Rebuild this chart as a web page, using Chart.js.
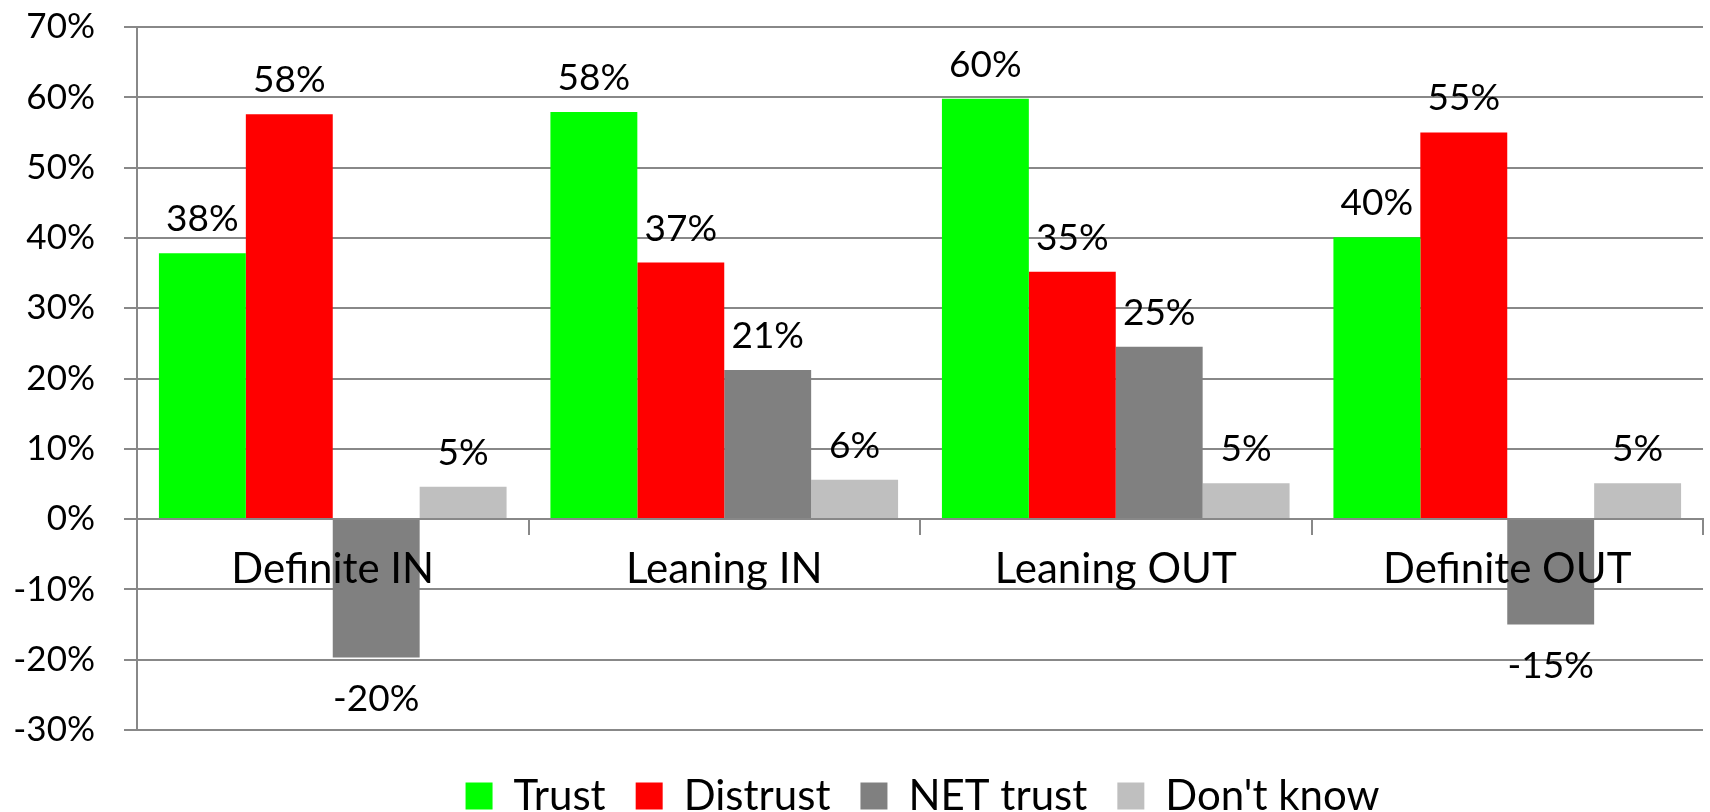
<!DOCTYPE html>
<html>
<head>
<meta charset="utf-8">
<script src="https://cdn.jsdelivr.net/npm/chart.js@4"></script>
<style>
  html, body { margin: 0; padding: 0; background: #fff; }
  #wrap { width: 1710px; height: 812px; }
</style>
</head>
<body>
<div id="wrap"><canvas id="chart"></canvas></div>
<script>
// categories and series (percent)
const categories = ['Definite IN', 'Leaning IN', 'Leaning OUT', 'Definite OUT'];
const trust = [37.8, 57.9, 59.8, 40.1];
const distrust = [57.6, 36.5, 35.2, 55.0];
const netTrust = [-19.7, 21.2, 24.5, -15.0];
const dontKnow = [4.6, 5.6, 5.1, 5.1];
const yMin = -30, yMax = 70, yStep = 10;

const FONT = 'Lato, "Open Sans", sans-serif';
const GRID = '#888888';

// value labels drawn at the bar ends
const barLabels = {
  id: 'barLabels',
  afterDatasetsDraw(chart) {
    const ctx = chart.ctx;
    ctx.save();
    ctx.font = '37px ' + FONT;
    ctx.fillStyle = '#000';
    ctx.textAlign = 'center';
    ctx.textBaseline = 'alphabetic';
    chart.data.datasets.forEach((ds, i) => {
      const meta = chart.getDatasetMeta(i);
      meta.data.forEach((bar, j) => {
        const v = ds.data[j];
        const txt = Math.round(v) + '%';
        const y = v >= 0 ? bar.y - 22 : bar.y + 53;
        ctx.fillText(txt, bar.x, y);
      });
    });
    ctx.restore();
  }
};

// nudge the legend to sit where the original has it
const legendShift = {
  id: 'legendShift',
  afterLayout(chart) {
    const lg = chart.legend;
    if (lg) {
      lg.left += 71; lg.right += 71;
      lg.top += 15; lg.bottom += 15;
    }
  }
};

new Chart(document.getElementById('chart'), {
  type: 'bar',
  data: {
    labels: categories,
    datasets: [
      { label: 'Trust', data: trust, backgroundColor: '#00ff00' },
      { label: 'Distrust', data: distrust, backgroundColor: '#ff0000' },
      { label: 'NET trust', data: netTrust, backgroundColor: '#808080' },
      { label: "Don't know", data: dontKnow, backgroundColor: '#bfbfbf' }
    ]
  },
  options: {
    responsive: true,
    maintainAspectRatio: false,
    animation: false,
    datasets: { bar: { categoryPercentage: 0.888, barPercentage: 1.0 } },
    layout: { padding: { top: 27, right: 7, left: 0, bottom: 0 } },
    plugins: {
      tooltip: { enabled: false },
      legend: {
        position: 'bottom',
        labels: {
          font: { family: FONT, size: 42 },
          color: '#000',
          boxWidth: 27,
          boxHeight: 27,
          padding: 30
        }
      }
    },
    scales: {
      x: {
        position: { y: 0 },
        offset: true,
        grid: {
          drawOnChartArea: false,
          drawTicks: true,
          tickLength: 15,
          color: GRID,
          lineWidth: 2
        },
        border: { display: true, color: GRID, width: 2 },
        ticks: {
          z: 1,
          font: { family: FONT, size: 42 },
          color: '#000',
          padding: 10,
          maxRotation: 0,
          autoSkip: false
        }
      },
      y: {
        min: yMin,
        max: yMax,
        afterFit(scale) {
          scale.width = 137;
          scale.paddingTop = 0;
          scale.paddingBottom = 0;
        },
        grid: {
          color: GRID,
          lineWidth: 2,
          tickLength: 13
        },
        border: { display: true, color: GRID, width: 2 },
        ticks: {
          stepSize: yStep,
          font: { family: FONT, size: 35 },
          color: '#000',
          padding: 29,
          callback: v => v + '%'
        }
      }
    }
  },
  plugins: [barLabels, legendShift]
});
</script>
</body>
</html>
